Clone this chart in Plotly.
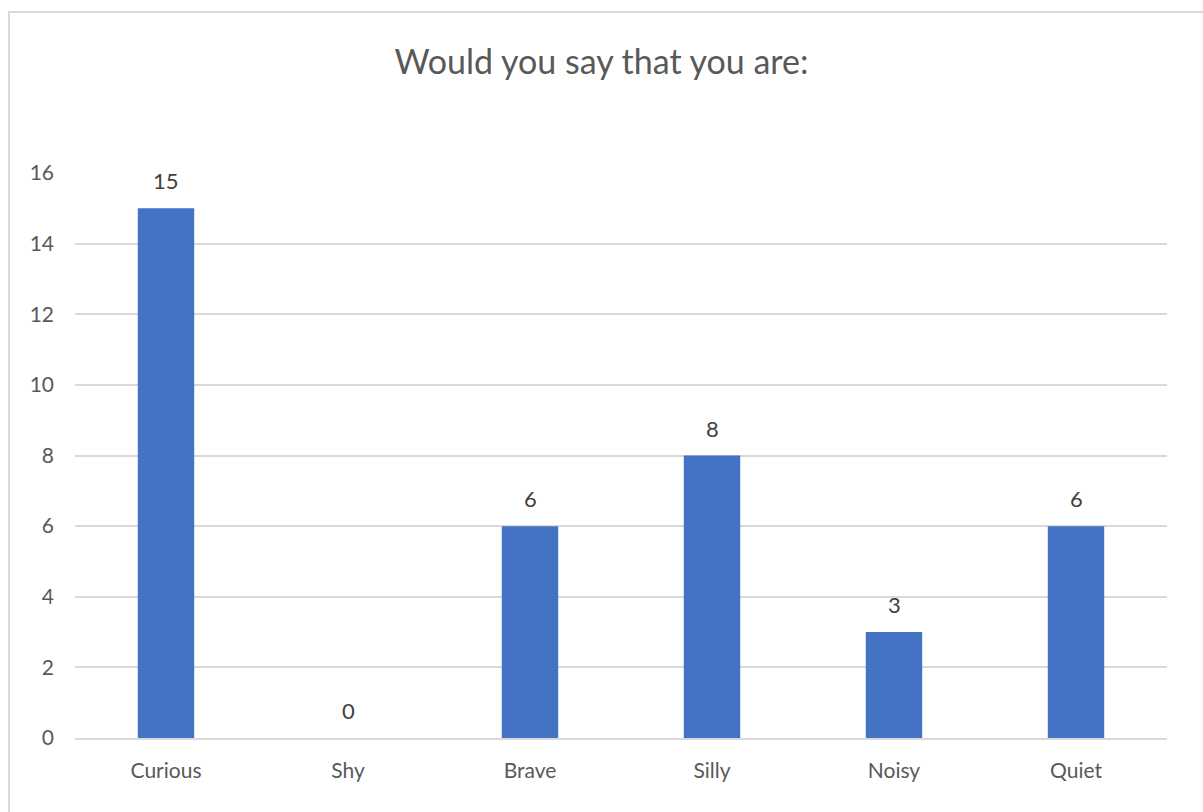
import plotly.graph_objects as go

categories = ["Curious", "Shy", "Brave", "Silly", "Noisy", "Quiet"]
values = [15, 0, 6, 8, 3, 6]
y_ticks = [0, 2, 4, 6, 8, 10, 12, 14, 16]

W, H = 1203, 812
L, R, T, B = 75, 36, 173, 74
pw, ph = W - L - R, H - T - B

font = "Lato, Open Sans, sans-serif"

fig = go.Figure(go.Bar(
    x=categories, y=values, width=0.31,
    marker=dict(color="#4472C4", line=dict(width=0)),
    cliponaxis=False, hoverinfo="x+y",
))

annotations = [
    dict(x=c, y=v, xref="x", yref="y", text=str(v), showarrow=False,
         yanchor="bottom", yshift=12,
         font=dict(family=font, size=22, color="#404040"))
    for c, v in zip(categories, values)
]

fig.update_layout(
    width=W, height=H,
    margin=dict(l=L, r=R, t=T, b=B),
    paper_bgcolor="white", plot_bgcolor="white",
    title=dict(text="Would you say that you are:", x=0.5, xanchor="center",
               y=1 - 62 / H, yanchor="middle",
               font=dict(family=font, size=34, color="#595959")),
    showlegend=False,
    annotations=annotations,
    xaxis=dict(showgrid=False, showline=True, linecolor="#d9d9d9", linewidth=1.5,
               tickfont=dict(family=font, size=21, color="#595959"),
               ticks="", ticklabelstandoff=13, fixedrange=True),
    yaxis=dict(range=[0, 16], tickvals=y_ticks, showgrid=True, gridcolor="#d9d9d9",
               gridwidth=1.5, zeroline=False, showline=False,
               tickfont=dict(family=font, size=21, color="#595959"),
               ticks="", ticklabelstandoff=20),
    shapes=[dict(type="rect", xref="paper", yref="paper",
                 x0=(9 - L) / pw, x1=(W + 20 - L) / pw,
                 y0=-(B + 20) / ph, y1=(H - B - 12) / ph,
                 line=dict(color="#d9d9d9", width=2), fillcolor="rgba(0,0,0,0)", layer="below")],
)

fig.write_html("out.html")
